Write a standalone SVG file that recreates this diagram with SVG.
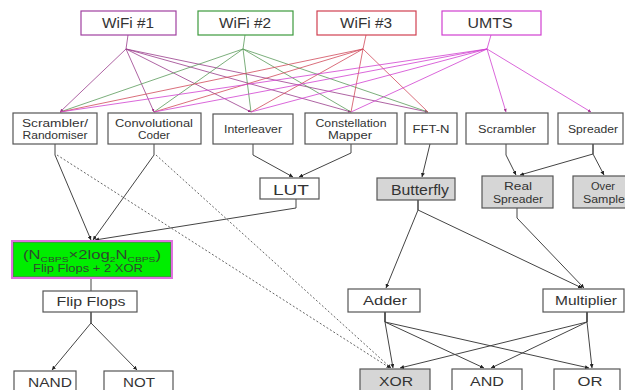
<svg xmlns="http://www.w3.org/2000/svg" width="625" height="390" viewBox="0 0 625 390">
<defs>
<marker id="ah" viewBox="0 0 6 6" refX="6" refY="3" markerWidth="4" markerHeight="4" orient="auto"><path d="M0,0 L6,3 L0,6 z" fill="#222"/></marker>
<marker id="ahm" viewBox="0 0 6 6" refX="6" refY="3" markerWidth="4" markerHeight="4" orient="auto"><path d="M0,0 L6,3 L0,6 z" fill="#a0308a"/></marker>
<style>
.box{fill:#fff;stroke:#555;stroke-width:1.2}
.gray{fill:#d6d6d6;stroke:#555;stroke-width:1.2}
text{font-family:"Liberation Sans",Arial,sans-serif;fill:#333;text-anchor:middle}
.t14{font-size:14px}
.t13{font-size:13px}
.t10{font-size:10px}
.c{fill:none;stroke:#444;stroke-width:1}
.d{fill:none;stroke:#555;stroke-width:0.9;stroke-dasharray:2,2}
.w1{fill:none;stroke:#993c8c;stroke-width:0.8}
.w2{fill:none;stroke:#5a9a5a;stroke-width:0.8}
.w3{fill:none;stroke:#d04a5a;stroke-width:0.8}
.u{fill:none;stroke:#d040d0;stroke-width:0.8}
</style>
</defs>
<g id="connectors">
<path class="w1" d="M128,35 L126,49"/>
<path class="w1" marker-end="url(#ahm)" d="M126,49 L60,112"/>
<path class="w1" marker-end="url(#ahm)" d="M126,49 L154,112"/>
<path class="w1" marker-end="url(#ahm)" d="M126,49 L251,112"/>
<path class="w1" marker-end="url(#ahm)" d="M126,49 L351,112"/>
<path class="w1" marker-end="url(#ahm)" d="M126,49 L428,112"/>
<path class="w2" d="M245,35 L243,49"/>
<path class="w2" d="M243,49 L60,112"/>
<path class="w2" d="M243,49 L154,112"/>
<path class="w2" d="M243,49 L251,112"/>
<path class="w2" d="M243,49 L351,112"/>
<path class="w2" d="M243,49 L428,112"/>
<path class="w3" d="M366,35 L363,49"/>
<path class="w3" d="M363,49 L60,112"/>
<path class="w3" d="M363,49 L154,112"/>
<path class="w3" d="M363,49 L251,112"/>
<path class="w3" d="M363,49 L351,112"/>
<path class="w3" d="M363,49 L428,112"/>
<path class="u" d="M491,35 L487,49"/>
<path class="u" d="M487,49 L60,112"/>
<path class="u" d="M487,49 L154,112"/>
<path class="u" d="M487,49 L251,112"/>
<path class="u" d="M487,49 L351,112"/>
<path class="u" marker-end="url(#ahm)" d="M487,49 L506,112"/>
<path class="u" marker-end="url(#ahm)" d="M487,49 L591,112"/>
<path class="c" marker-end="url(#ah)" d="M55,144 L55,155 L91,240"/>
<path class="c" marker-end="url(#ah)" d="M154,144 L154,155 L93,240"/>
<path class="c" marker-end="url(#ah)" d="M296,199 L296,208 L95,240"/>
<path class="d" marker-end="url(#ah)" d="M57,155 L390,368"/>
<path class="d" marker-end="url(#ah)" d="M156,155 L391,368"/>
<path class="c" marker-end="url(#ah)" d="M253,144 L253,155 L293,177"/>
<path class="c" marker-end="url(#ah)" d="M351,144 L351,153 L299,177"/>
<path class="c" marker-end="url(#ah)" d="M430,144 L422,177"/>
<path class="c" marker-end="url(#ah)" d="M506,144 L506,155 L516,175"/>
<path class="c" marker-end="url(#ah)" d="M593,144 L593,154 L520,175"/>
<path class="c" marker-end="url(#ah)" d="M593,144 L593,154 L604,175"/>
<path class="c" marker-end="url(#ah)" d="M418,200 L418,210 L386,288"/>
<path class="c" marker-end="url(#ah)" d="M418,200 L418,210 L582,288"/>
<path class="c" marker-end="url(#ah)" d="M517,208 L517,218 L584,288"/>
<path class="c" d="M91,278 L91,291"/>
<path class="c" marker-end="url(#ah)" d="M91,312 L91,323 L52,370"/>
<path class="c" marker-end="url(#ah)" d="M91,312 L91,323 L137,370"/>
<path class="c" marker-end="url(#ah)" d="M385,312 L385,322 L393,368"/>
<path class="c" marker-end="url(#ah)" d="M385,312 L385,322 L484,368"/>
<path class="c" marker-end="url(#ah)" d="M385,312 L385,322 L589,368"/>
<path class="c" marker-end="url(#ah)" d="M587,312 L587,322 L400,368"/>
<path class="c" marker-end="url(#ah)" d="M587,312 L587,322 L491,368"/>
<path class="c" marker-end="url(#ah)" d="M587,312 L587,322 L592,368"/>
</g>
<g id="wifi1"><rect x="81" y="11" width="95" height="24" fill="#fff" stroke="#a040a0" stroke-width="1.2"/><text class="t14" x="128" y="28" textLength="52" lengthAdjust="spacingAndGlyphs">WiFi #1</text></g>
<g id="wifi2"><rect x="198" y="11" width="95" height="24" fill="#fff" stroke="#3c9a3c" stroke-width="1.2"/><text class="t14" x="245" y="28" textLength="52" lengthAdjust="spacingAndGlyphs">WiFi #2</text></g>
<g id="wifi3"><rect x="317" y="11" width="99" height="24" fill="#fff" stroke="#d04050" stroke-width="1.2"/><text class="t14" x="366" y="28" textLength="52" lengthAdjust="spacingAndGlyphs">WiFi #3</text></g>
<g id="umts"><rect x="442" y="11" width="99" height="24" fill="#fff" stroke="#d040d0" stroke-width="1.2"/><text class="t14" x="490" y="28" textLength="45" lengthAdjust="spacingAndGlyphs">UMTS</text></g>
<g id="scrambler-randomiser"><rect class="box" x="13" y="113" width="84" height="31"/><text class="t10" x="55" y="127" textLength="66" lengthAdjust="spacingAndGlyphs">Scrambler/</text><text class="t10" x="55" y="139" textLength="65" lengthAdjust="spacingAndGlyphs">Randomiser</text></g>
<g id="conv-coder"><rect class="box" x="108" y="113" width="93" height="31"/><text class="t10" x="154" y="127" textLength="78" lengthAdjust="spacingAndGlyphs">Convolutional</text><text class="t10" x="154" y="139" textLength="32" lengthAdjust="spacingAndGlyphs">Coder</text></g>
<g id="interleaver"><rect class="box" x="213" y="114" width="80" height="30"/><text class="t10" x="253" y="133" textLength="58" lengthAdjust="spacingAndGlyphs">Interleaver</text></g>
<g id="constellation"><rect class="box" x="305" y="113" width="92" height="31"/><text class="t10" x="351" y="127" textLength="71" lengthAdjust="spacingAndGlyphs">Constellation</text><text class="t10" x="350" y="139" textLength="44" lengthAdjust="spacingAndGlyphs">Mapper</text></g>
<g id="fft"><rect class="box" x="405" y="113" width="52" height="31"/><text class="t10" x="431" y="133" textLength="37" lengthAdjust="spacingAndGlyphs">FFT-N</text></g>
<g id="scrambler"><rect class="box" x="466" y="113" width="82" height="31"/><text class="t10" x="507" y="133" textLength="58" lengthAdjust="spacingAndGlyphs">Scrambler</text></g>
<g id="spreader"><rect class="box" x="558" y="113" width="65" height="31"/><text class="t10" x="593" y="133" textLength="50" lengthAdjust="spacingAndGlyphs">Spreader</text></g>
<g id="lut"><rect class="box" x="260" y="178" width="59" height="21"/><text class="t14" x="291" y="195" textLength="36" lengthAdjust="spacingAndGlyphs">LUT</text></g>
<g id="butterfly"><rect class="gray" x="377" y="178" width="78" height="22"/><text class="t14" x="420" y="195" textLength="58" lengthAdjust="spacingAndGlyphs">Butterfly</text></g>
<g id="real-spreader"><rect class="gray" x="482" y="176" width="71" height="32"/><text class="t10" x="518" y="190" textLength="28" lengthAdjust="spacingAndGlyphs">Real</text><text class="t10" x="518" y="203" textLength="50" lengthAdjust="spacingAndGlyphs">Spreader</text></g>
<g id="over-sampler"><rect class="gray" x="573" y="176" width="60" height="32"/><text class="t10" x="603" y="190" textLength="24" lengthAdjust="spacingAndGlyphs">Over</text><text class="t10" x="606" y="203" textLength="46" lengthAdjust="spacingAndGlyphs">Sampler</text></g>
<g id="green"><rect x="12" y="241" width="160" height="37" fill="#00ee00" stroke="#e070e0" stroke-width="2"/><rect x="13.5" y="242.5" width="157" height="34" fill="none" stroke="#557755" stroke-width="0.6"/>
<text x="92" y="259" style="font-size:13px;fill:#2e4a2e" textLength="138" lengthAdjust="spacingAndGlyphs">(N<tspan dy="3" style="font-size:8px">CBPS</tspan><tspan dy="-3">×2log</tspan><tspan dy="3" style="font-size:8px">2</tspan><tspan dy="-3">N</tspan><tspan dy="3" style="font-size:8px">CBPS</tspan><tspan dy="-3">)</tspan></text>
<text x="88" y="272" style="font-size:10px;fill:#2e4a2e" textLength="110" lengthAdjust="spacingAndGlyphs">Flip Flops + 2 XOR</text></g>
<g id="flip-flops"><rect class="box" x="43" y="291" width="94" height="21"/><text class="t13" x="91" y="306" textLength="69" lengthAdjust="spacingAndGlyphs">Flip Flops</text></g>
<g id="adder"><rect class="box" x="348" y="289" width="72" height="23"/><text class="t13" x="385" y="305" textLength="44" lengthAdjust="spacingAndGlyphs">Adder</text></g>
<g id="multiplier"><rect class="box" x="543" y="289" width="81" height="23"/><text class="t13" x="586" y="305" textLength="62" lengthAdjust="spacingAndGlyphs">Multiplier</text></g>
<g id="nand"><rect class="box" x="14" y="371" width="62" height="24"/><text class="t13" x="50" y="387" textLength="44" lengthAdjust="spacingAndGlyphs">NAND</text></g>
<g id="not"><rect class="box" x="104" y="371" width="69" height="24"/><text class="t13" x="139" y="387" textLength="32" lengthAdjust="spacingAndGlyphs">NOT</text></g>
<g id="xor"><rect class="gray" x="360" y="369" width="70" height="26"/><text class="t13" x="396" y="386" textLength="34" lengthAdjust="spacingAndGlyphs">XOR</text></g>
<g id="and"><rect class="box" x="452" y="369" width="70" height="26"/><text class="t13" x="487" y="386" textLength="34" lengthAdjust="spacingAndGlyphs">AND</text></g>
<g id="or"><rect class="box" x="554" y="369" width="66" height="26"/><text class="t13" x="590" y="386" textLength="25" lengthAdjust="spacingAndGlyphs">OR</text></g>
</svg>
